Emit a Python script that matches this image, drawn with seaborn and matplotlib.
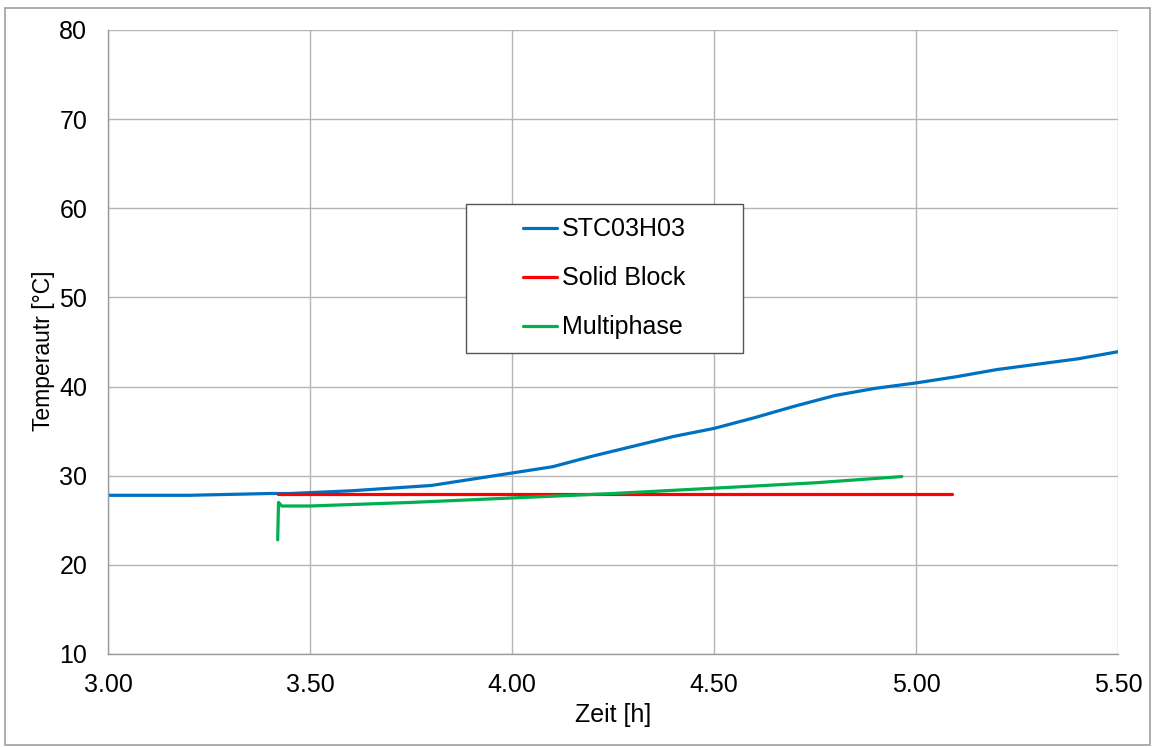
import numpy as np
import pandas as pd
import seaborn as sns
import matplotlib.pyplot as plt
from matplotlib.patches import Rectangle

# --------------------------
# data
# --------------------------
stc_time = [3.00, 3.10, 3.20, 3.30, 3.40, 3.45, 3.50, 3.60, 3.70, 3.80, 3.90,
            4.00, 4.10, 4.20, 4.30, 4.40, 4.50, 4.60, 4.70, 4.80, 4.90,
            5.00, 5.10, 5.20, 5.30, 5.40, 5.50]
stc_temp = [27.8, 27.8, 27.8, 27.9, 28.0, 28.0, 28.1, 28.3, 28.6, 28.9, 29.6,
            30.3, 31.0, 32.2, 33.3, 34.4, 35.3, 36.5, 37.8, 39.0, 39.8,
            40.4, 41.1, 41.9, 42.5, 43.1, 43.9]

solid_time = [3.42, 4.00, 4.50, 5.09]
solid_temp = [28.0, 28.0, 28.0, 28.0]

multi_time = [3.420, 3.422, 3.430, 3.500, 3.750, 4.000, 4.250, 4.500, 4.750, 4.965]
multi_temp = [22.8, 27.0, 26.6, 26.6, 27.0, 27.5, 28.0, 28.6, 29.2, 29.9]

series_names = ['STC03H03', 'Solid Block', 'Multiphase']
series_colors = ['#0070C0', '#FF0000', '#00B050']

df = pd.concat([
    pd.DataFrame({'Zeit': stc_time, 'Temp': stc_temp, 'Serie': series_names[0]}),
    pd.DataFrame({'Zeit': solid_time, 'Temp': solid_temp, 'Serie': series_names[1]}),
    pd.DataFrame({'Zeit': multi_time, 'Temp': multi_temp, 'Serie': series_names[2]}),
], ignore_index=True)

sns.set_style("whitegrid")
plt.rcParams['font.family'] = ['Liberation Sans', 'DejaVu Sans']
plt.rcParams['text.color'] = 'black'
plt.rcParams['axes.labelcolor'] = 'black'
plt.rcParams['xtick.color'] = 'black'
plt.rcParams['ytick.color'] = 'black'

fig, ax = plt.subplots(figsize=(11.53, 7.47), dpi=100)
fig.subplots_adjust(left=0.0937, right=0.9696, top=0.96, bottom=0.1245)

sns.lineplot(data=df, x='Zeit', y='Temp', hue='Serie', hue_order=series_names,
             palette=dict(zip(series_names, series_colors)),
             estimator=None, sort=False, linewidth=2.3, ax=ax)

ax.set_xlim(3.0, 5.5)
ax.set_ylim(10, 80)
ax.set_xticks(np.arange(3.0, 5.51, 0.5))
ax.set_xticklabels([f'{v:.2f}' for v in np.arange(3.0, 5.51, 0.5)])
ax.set_yticks(np.arange(10, 81, 10))

ax.grid(True, color='#B4B4B4', linewidth=1.0)
for s in ['top', 'right']:
    ax.spines[s].set_visible(False)
for s in ['left', 'bottom']:
    ax.spines[s].set_color('#9A9A9A')
    ax.spines[s].set_linewidth(1.0)
ax.tick_params(axis='both', which='major', length=6, width=1.0, color='#9A9A9A',
               labelsize=18, labelcolor='black', direction='out')
ax.tick_params(axis='x', pad=8)
ax.tick_params(axis='y', pad=9)

ax.set_xlabel('Zeit [h]', fontsize=18, labelpad=4)
ax.set_ylabel('Temperautr [°C]', fontsize=16.5)
ax.yaxis.set_label_coords(-0.053, 0.486)

# legend box (Excel style, wide padding)
ax.add_patch(Rectangle((0.354, 0.483), 0.275, 0.238, transform=ax.transAxes,
                       facecolor='white', edgecolor='#555555', linewidth=1.0, zorder=5))
leg = ax.legend(loc='center', bbox_to_anchor=(0.4915, 0.602), fontsize=18,
                frameon=False, handlelength=1.35, handletextpad=0.2,
                labelspacing=1.0, borderaxespad=0)
leg.set_zorder(6)
for line in leg.get_lines():
    line.set_linewidth(2.3)

# outer chart frame
fig.patches.append(Rectangle((0.004, 0.003), 0.993, 0.986, transform=fig.transFigure,
                             fill=False, edgecolor='#A0A0A0', linewidth=1.2))

plt.savefig('out.png', dpi=100)
